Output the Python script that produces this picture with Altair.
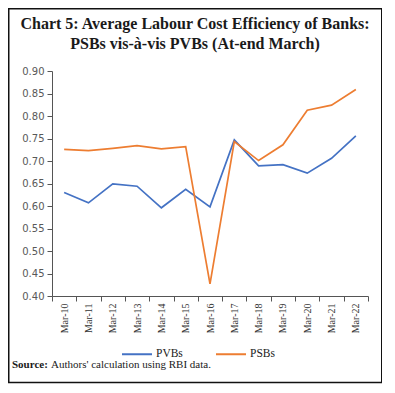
import altair as alt
import pandas as pd

categories = ["Mar-10", "Mar-11", "Mar-12", "Mar-13", "Mar-14", "Mar-15", "Mar-16",
              "Mar-17", "Mar-18", "Mar-19", "Mar-20", "Mar-21", "Mar-22"]
pvbs = [0.630, 0.607, 0.649, 0.644, 0.596, 0.637, 0.598, 0.747, 0.689, 0.692, 0.673, 0.706, 0.756]
psbs = [0.726, 0.723, 0.728, 0.734, 0.727, 0.732, 0.427, 0.743, 0.701, 0.736, 0.813, 0.824, 0.859]
series_names = ["PVBs", "PSBs"]
series_colors = ["#4472C4", "#ED7D31"]
y_ticks = [0.40, 0.45, 0.50, 0.55, 0.60, 0.65, 0.70, 0.75, 0.80, 0.85, 0.90]
title_lines = ["Chart 5: Average Labour Cost Efficiency of Banks:",
               "PSBs vis-à-vis PVBs (At-end March)"]
source_bold = "Source:"
source_text = "Authors' calculation using RBI data."

rows = []
for c, v in zip(categories, pvbs):
    rows.append({"year": c, "value": v, "series": "PVBs"})
for c, v in zip(categories, psbs):
    rows.append({"year": c, "value": v, "series": "PSBs"})
df = pd.DataFrame(rows)

W, H = 316, 225
SERIF = "Liberation Serif"

lines = alt.Chart(df).mark_line(strokeWidth=1.7).encode(
    x=alt.X("year:N", sort=categories, bandPosition=0.5,
            scale=alt.Scale(type="band", paddingInner=0, paddingOuter=0),
            axis=alt.Axis(title=None, tickBand="extent", labelAngle=-90,
                          labelFont=SERIF, labelFontSize=10, labelColor="#333333",
                          tickSize=5, labelPadding=2, domainColor="#555555",
                          tickColor="#555555", grid=False)),
    y=alt.Y("value:Q", scale=alt.Scale(domain=[0.4, 0.9], nice=False, zero=False),
            axis=alt.Axis(title=None, values=y_ticks, format=".2f", grid=False,
                          labelFont="DejaVu Sans", labelFontSize=10, labelColor="#595959",
                          tickSize=5, labelPadding=3, domainColor="#555555",
                          tickColor="#555555")),
    color=alt.Color("series:N", sort=series_names,
                    scale=alt.Scale(domain=series_names, range=series_colors),
                    legend=alt.Legend(title=None, orient="none", direction="horizontal",
                                      legendX=69, legendY=267, symbolType="stroke",
                                      symbolSize=900, symbolStrokeWidth=2,
                                      labelFont=SERIF, labelFontSize=11.5, labelColor="#222222",
                                      columnPadding=29, labelOffset=3, padding=0)),
)

one = pd.DataFrame({"k": [0]})

frame = alt.Chart(one).mark_rect(fill="transparent", stroke="#111111", strokeWidth=1.5).encode(
    x=alt.value(-43.25), x2=alt.value(329.75), y=alt.value(-62.25), y2=alt.value(311.5)
)

t1 = alt.Chart(one).mark_text(text=title_lines[0], font=SERIF, fontSize=16, fontWeight="bold",
                              align="center", baseline="alphabetic", color="#1a1a1a").encode(
    x=alt.value(143), y=alt.value(-42))
t2 = alt.Chart(one).mark_text(text=title_lines[1], font=SERIF, fontSize=16, fontWeight="bold",
                              align="center", baseline="alphabetic", color="#1a1a1a").encode(
    x=alt.value(143), y=alt.value(-22))

s1 = alt.Chart(one).mark_text(text=source_bold, font=SERIF, fontSize=11, fontWeight="bold",
                              align="left", baseline="alphabetic", color="#1a1a1a").encode(
    x=alt.value(-40), y=alt.value(297))
s2 = alt.Chart(one).mark_text(text=source_text, font=SERIF, fontSize=11,
                              align="left", baseline="alphabetic", color="#1a1a1a").encode(
    x=alt.value(-1), y=alt.value(297))

chart = alt.layer(lines, frame, t1, t2, s1, s2).properties(
    width=W, height=H,
    autosize=alt.AutoSizeParams(type="none"),
    padding={"left": 44, "top": 63, "right": 14, "bottom": 88},
    background="white",
).configure_view(stroke=None)

chart.save("out.html", embed_options={"renderer": "svg", "actions": False})
